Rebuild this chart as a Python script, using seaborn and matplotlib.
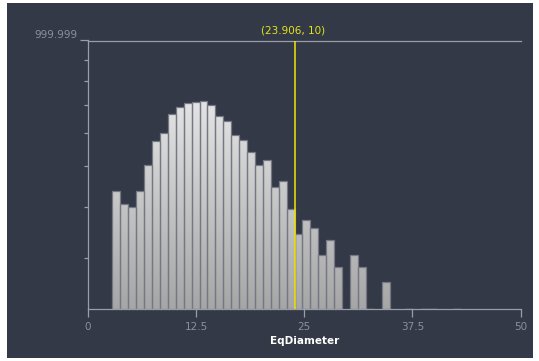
import numpy as np
import pandas as pd
import seaborn as sns
import matplotlib.pyplot as plt
from matplotlib.colors import LinearSegmentedColormap
from matplotlib.patches import Rectangle
from matplotlib.ticker import NullFormatter

# -----------------------------
# Data
# -----------------------------
x_min = 2.823          # left edge of first bin
x_max = 43.1           # right edge of last bin
counts = [21, 15, 14, 21, 41, 75, 93, 152, 180, 199,
          204, 210, 189, 143, 125, 88, 77, 57, 41, 46,
          23, 27, 13, 7, 10, 8, 4, 6, 3, 0,
          4, 3, 1, 0, 2, 0, 0, 1, 0, 1,
          1, 0, 0, 1]
cursor_x = 23.906
cursor_y = 10
x_ticks = [0, 12.5, 25, 37.5, 50]
x_tick_labels = ["0", "12.5", "25", "37.5", "50"]
y_top = 999.999
y_minor_ticks = [3.7, 14, 40, 92, 190, 350, 612]

n_bins = len(counts)
edges = np.linspace(x_min, x_max, n_bins + 1)
centers = (edges[:-1] + edges[1:]) / 2
df = pd.DataFrame({"EqDiameter": centers, "count": counts})

# -----------------------------
# Style
# -----------------------------
bg = "#343947"
axis_col = "#9a9ea8"
text_col = "#8c909a"

sns.set_style("ticks")
plt.rcParams["font.family"] = ["DejaVu Sans"]

fig = plt.figure(figsize=(5.39, 3.61), dpi=100, facecolor="white")
fig.patches.append(Rectangle((7 / 539, 3 / 361), 526 / 539, 355 / 361,
                             transform=fig.transFigure, facecolor=bg,
                             edgecolor="none", zorder=-5))
ax = fig.add_axes([88 / 539, (361 - 309.3) / 361, 432.5 / 539, 268.8 / 361])
ax.set_facecolor(bg)

# histogram bars (outline only, fill done with a gradient below)
sns.histplot(data=df, x="EqDiameter", weights="count", bins=n_bins,
             binrange=(x_min, x_max), log_scale=(False, True),
             facecolor="none", edgecolor="#737884", linewidth=0.9, ax=ax)

# log axis starts at 1: let the bars rise from 1 instead of 0
bars = list(ax.patches)
for p in bars:
    top = p.get_y() + p.get_height()
    if top < 1:
        p.set_visible(False)
        continue
    p.set_y(1)
    p.set_height(top - 1)
    if top == 1:
        p.set_edgecolor("#b4b7be")

# vertical grey gradient clipped to every bar
grad_cmap = LinearSegmentedColormap.from_list("bars", ["#a6a6a6", "#f6f6f6"])
gradient = np.linspace(0, 1, 256).reshape(-1, 1)
for p in bars:
    if not p.get_visible() or p.get_height() <= 0:
        continue
    im = ax.imshow(gradient, extent=(0, 1, 0, 1), origin="lower",
                   transform=ax.transAxes, aspect="auto", cmap=grad_cmap,
                   zorder=0.5, interpolation="bilinear")
    im.set_clip_path(p)

ax.set_xlim(0, 50)
ax.set_ylim(1, y_top)

# cursor line + label
ax.axvline(cursor_x, color="#f2e600", lw=1.1, zorder=5)
ax.annotate(f"({cursor_x}, {cursor_y})", xy=(cursor_x, 1),
            xycoords=("data", "axes fraction"), xytext=(-1.5, 3.5),
            textcoords="offset points", ha="center", va="bottom",
            color="#e2e41c", fontsize=7.5)

# axes
for side in ["left", "bottom", "top"]:
    ax.spines[side].set_color(axis_col)
    ax.spines[side].set_linewidth(0.9)
ax.spines["right"].set_visible(False)

ax.set_xticks(x_ticks, labels=x_tick_labels)
ax.tick_params(axis="x", direction="out", length=5.8, width=0.9,
               color=axis_col, labelcolor=text_col, labelsize=7.5, pad=3)

ax.set_yticks([y_top], labels=["999.999"])
ax.set_yticks(y_minor_ticks, minor=True)
ax.yaxis.set_minor_formatter(NullFormatter())
ax.tick_params(axis="y", which="major", direction="out", length=6,
               width=0.9, color=axis_col, labelcolor=text_col,
               labelsize=7.5, pad=1.5)
ax.tick_params(axis="y", which="minor", direction="out", length=3.2,
               width=0.9, color=axis_col)
for lab in ax.get_yticklabels():
    lab.set_va("bottom")

ax.set_xlabel("EqDiameter", color="white", fontweight="bold",
              fontsize=7.5, labelpad=3)
ax.set_ylabel("")

fig.savefig("out.png", dpi=100, facecolor=fig.get_facecolor())
